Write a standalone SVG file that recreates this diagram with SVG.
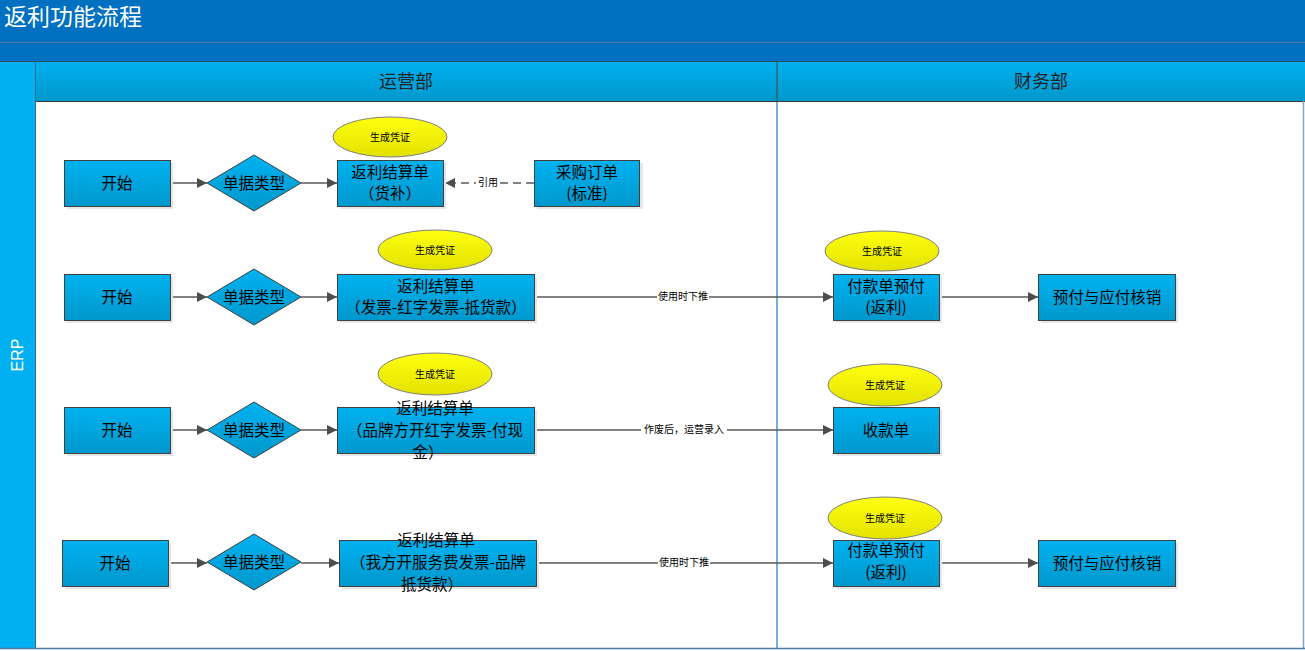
<svg xmlns="http://www.w3.org/2000/svg" width="1305" height="651" viewBox="0 0 1305 651">
<defs>
<linearGradient id="gBlue" x1="0" y1="0" x2="0" y2="1"><stop offset="0" stop-color="#00B2F0"/><stop offset="1" stop-color="#0098CC"/></linearGradient>
<linearGradient id="gHead" x1="0" y1="0" x2="0" y2="1"><stop offset="0" stop-color="#00B0F0"/><stop offset="1" stop-color="#0098CC"/></linearGradient>
<linearGradient id="gYel" x1="0" y1="0" x2="0" y2="1"><stop offset="0" stop-color="#FFFF10"/><stop offset="1" stop-color="#E2E200"/></linearGradient>
<marker id="arr" viewBox="0 0 10 10" refX="10" refY="5" markerWidth="10" markerHeight="10" markerUnits="userSpaceOnUse" orient="auto"><path d="M0,0 L10,5 L0,10 Z" fill="#4D4D4D"/></marker>
<style>
.box{fill:url(#gBlue);stroke:#404040;stroke-width:1}
.sh{fill:#E6E6E6}
.ell{fill:url(#gYel);stroke:#7F7F7F;stroke-width:1}
.t{font-family:"Noto Sans CJK SC","Liberation Sans",sans-serif;font-size:15.5px;fill:#000;text-anchor:middle}
.s{font-family:"Noto Sans CJK SC","Liberation Sans",sans-serif;font-size:10px;fill:#000;text-anchor:middle}
.l{font-family:"Noto Sans CJK SC","Liberation Sans",sans-serif;font-size:10px;fill:#000;text-anchor:middle}
.lbg{fill:#fff}
.c{stroke:#595959;stroke-width:1.5;fill:none;marker-end:url(#arr)}
.h{font-family:"Noto Sans CJK SC","Liberation Sans",sans-serif;font-size:18px;fill:#222;text-anchor:middle}
</style>
</defs>
<rect x="0" y="0" width="1305" height="651" fill="#fff"/>
<g id="title">
<rect x="0" y="0" width="1305" height="61" fill="#0070C0"/>
<line x1="0" y1="42.5" x2="1305" y2="42.5" stroke="#4A78A8" stroke-width="1"/>
<text x="4" y="25" font-family="Noto Sans CJK SC, Liberation Sans, sans-serif" font-size="23" fill="#fff">返利功能流程</text>
</g>
<g id="pool">
<rect x="0" y="61" width="36" height="588" fill="#00B0F0"/>
<line x1="35.5" y1="61" x2="35.5" y2="648" stroke="#3A6A90" stroke-width="1"/>
<text transform="translate(23,355) rotate(-90)" font-family="Liberation Sans, Noto Sans, sans-serif" font-size="16" fill="#fff" text-anchor="middle">ERP</text>
<rect x="36" y="61" width="1269" height="40" fill="url(#gHead)"/>
<line x1="0" y1="61.5" x2="1305" y2="61.5" stroke="#2E4A66" stroke-width="1"/>
<line x1="36" y1="101.5" x2="1305" y2="101.5" stroke="#3A3A3A" stroke-width="1"/>
<line x1="777" y1="61" x2="777" y2="101" stroke="#444" stroke-width="1"/>
<line x1="777" y1="102" x2="777" y2="648" stroke="#1F7AC8" stroke-width="1.2"/>
<line x1="1303.5" y1="101" x2="1303.5" y2="648" stroke="#7FA6C6" stroke-width="1.5"/>
<line x1="0" y1="648.5" x2="1305" y2="648.5" stroke="#4A78A8" stroke-width="1.5"/>
<text class="h" x="406" y="88">运营部</text>
<text class="h" x="1041" y="88">财务部</text>
</g>
<g id="connectors">
<line class="c" x1="170" y1="183" x2="207" y2="183"/>
<line class="c" x1="301" y1="183" x2="337" y2="183"/>
<line x1="534" y1="183" x2="445" y2="183" stroke="#595959" stroke-width="1.5" stroke-dasharray="8,5" marker-end="url(#arr)"/>
<rect class="lbg" x="476" y="177" width="24" height="12"/>
<text class="l" x="488" y="186">引用</text>

<line class="c" x1="170" y1="297" x2="207" y2="297"/>
<line class="c" x1="301" y1="297" x2="337" y2="297"/>
<line class="c" x1="534" y1="297" x2="833" y2="297"/>
<rect class="lbg" x="657" y="291" width="52" height="12"/>
<text class="l" x="683" y="300">使用时下推</text>
<line class="c" x1="939" y1="297" x2="1038" y2="297"/>

<line class="c" x1="170" y1="430" x2="207" y2="430"/>
<line class="c" x1="301" y1="430" x2="337" y2="430"/>
<line class="c" x1="534" y1="430" x2="833" y2="430"/>
<rect class="lbg" x="641" y="424" width="86" height="12"/>
<text class="l" x="684" y="433">作废后，运营录入</text>

<line class="c" x1="168" y1="563" x2="207" y2="563"/>
<line class="c" x1="301" y1="563" x2="339" y2="563"/>
<line class="c" x1="536" y1="563" x2="833" y2="563"/>
<rect class="lbg" x="658" y="557" width="52" height="12"/>
<text class="l" x="684" y="566">使用时下推</text>
<line class="c" x1="939" y1="563" x2="1038" y2="563"/>
</g>
<g id="start1"><rect class="sh" x="67" y="163" width="106" height="46"/><rect class="box" x="64.5" y="160.5" width="106" height="46"/><text class="t" x="117" y="189">开始</text></g>
<g id="dec1"><polygon points="254,155 301,183 254,211 207,183" class="box"/><text class="t" x="254" y="189">单据类型</text></g>
<g id="fl1"><rect class="sh" x="340" y="163" width="106" height="46"/><rect class="box" x="337.5" y="160.5" width="106" height="46"/><text class="t" x="390" y="178">返利结算单</text><text class="t" x="390" y="199">（货补）</text></g>
<g id="ev1"><ellipse class="ell" cx="390" cy="137" rx="57" ry="20"/><text class="s" x="390" y="141">生成凭证</text></g>
<g id="po1"><rect class="sh" x="537" y="163" width="106" height="46"/><rect class="box" x="534.5" y="160.5" width="105" height="46"/><text class="t" x="587" y="178">采购订单</text><text class="t" x="587" y="199">(标准)</text></g>
<g id="start2"><rect class="sh" x="67" y="277" width="106" height="46"/><rect class="box" x="64.5" y="274.5" width="106" height="46"/><text class="t" x="117" y="303">开始</text></g>
<g id="dec2"><polygon points="254,269 301,297 254,325 207,297" class="box"/><text class="t" x="254" y="303">单据类型</text></g>
<g id="fl2"><rect class="sh" x="340" y="277" width="197" height="46"/><rect class="box" x="337.5" y="274.5" width="197" height="46"/><text class="t" x="436" y="292">返利结算单</text><text class="t" x="436" y="313">（发票-红字发票-抵货款）</text></g>
<g id="ev2"><ellipse class="ell" cx="435" cy="250" rx="57" ry="20"/><text class="s" x="435" y="254">生成凭证</text></g>
<g id="pay2"><rect class="sh" x="836" y="277" width="106" height="46"/><rect class="box" x="833.5" y="274.5" width="106" height="46"/><text class="t" x="886" y="292">付款单预付</text><text class="t" x="886" y="313">(返利)</text></g>
<g id="ev2b"><ellipse class="ell" cx="882" cy="251" rx="57" ry="20"/><text class="s" x="882" y="255">生成凭证</text></g>
<g id="wo2"><rect class="sh" x="1041" y="277" width="137" height="46"/><rect class="box" x="1038.5" y="274.5" width="137" height="46"/><text class="t" x="1107" y="303">预付与应付核销</text></g>
<g id="start3"><rect class="sh" x="67" y="410" width="106" height="46"/><rect class="box" x="64.5" y="407.5" width="106" height="46"/><text class="t" x="117" y="436">开始</text></g>
<g id="dec3"><polygon points="254,402 301,430 254,458 207,430" class="box"/><text class="t" x="254" y="436">单据类型</text></g>
<g id="fl3"><rect class="sh" x="340" y="410" width="197" height="46"/><rect class="box" x="337.5" y="407.5" width="197" height="46"/><text class="t" x="435" y="414">返利结算单</text><text class="t" x="435" y="436">（品牌方开红字发票-付现</text><text class="t" x="428" y="458">金）</text></g>
<g id="ev3"><ellipse class="ell" cx="435" cy="374" rx="57" ry="21"/><text class="s" x="435" y="378">生成凭证</text></g>
<g id="rc3"><rect class="sh" x="836" y="410" width="106" height="46"/><rect class="box" x="833.5" y="407.5" width="106" height="46"/><text class="t" x="886" y="436">收款单</text></g>
<g id="ev3b"><ellipse class="ell" cx="885" cy="385" rx="57" ry="21"/><text class="s" x="885" y="389">生成凭证</text></g>
<g id="start4"><rect class="sh" x="65" y="543" width="106" height="46"/><rect class="box" x="62.5" y="540.5" width="106" height="46"/><text class="t" x="115" y="569">开始</text></g>
<g id="dec4"><polygon points="254,534 301,562 254,590 207,562" class="box"/><text class="t" x="254" y="568">单据类型</text></g>
<g id="fl4"><rect class="sh" x="342" y="543" width="197" height="46"/><rect class="box" x="339.5" y="540.5" width="197" height="46"/><text class="t" x="436" y="546">返利结算单</text><text class="t" x="438" y="568">（我方开服务费发票-品牌</text><text class="t" x="432" y="590">抵货款）</text></g>
<g id="pay4"><rect class="sh" x="836" y="543" width="106" height="46"/><rect class="box" x="833.5" y="540.5" width="106" height="46"/><text class="t" x="886" y="556">付款单预付</text><text class="t" x="886" y="578">(返利)</text></g>
<g id="ev4"><ellipse class="ell" cx="885" cy="518" rx="57" ry="21"/><text class="s" x="885" y="522">生成凭证</text></g>
<g id="wo4"><rect class="sh" x="1041" y="543" width="137" height="46"/><rect class="box" x="1038.5" y="540.5" width="137" height="46"/><text class="t" x="1107" y="569">预付与应付核销</text></g>
</svg>
